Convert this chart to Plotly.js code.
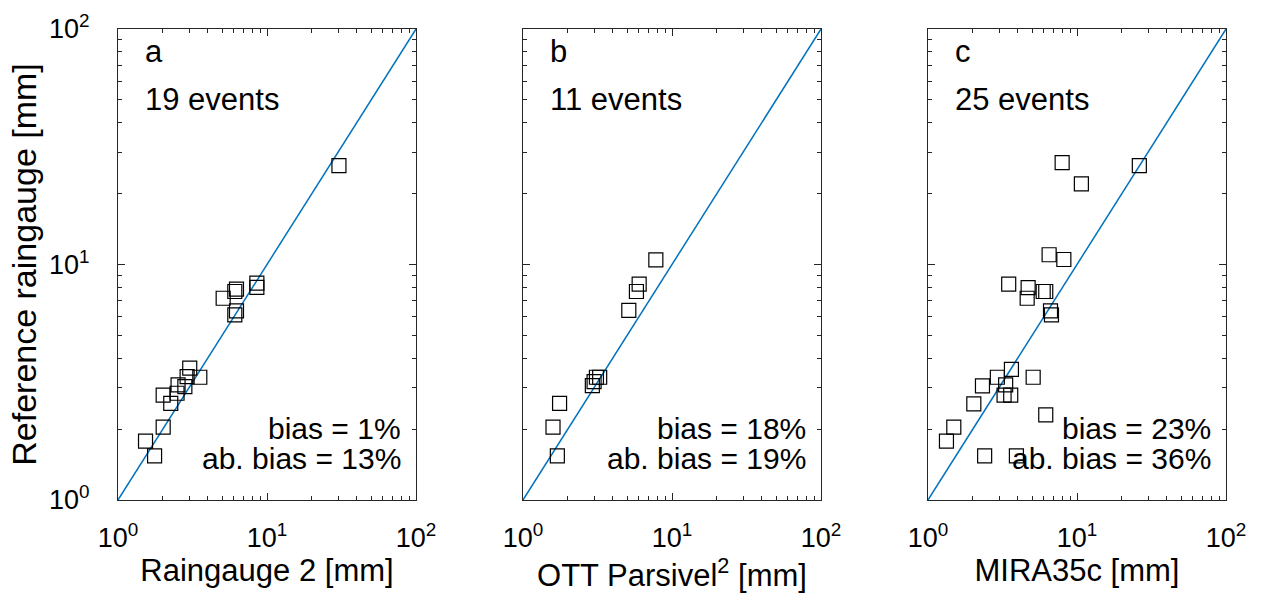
<!DOCTYPE html>
<html>
<head>
<meta charset="utf-8">
<script src="https://cdn.plot.ly/plotly-3.0.1.min.js"></script>
<style>html,body{margin:0;padding:0;background:#fff;}#chart{width:1261px;height:601px;}</style>
</head>
<body>
<div id="chart"></div>
<script>
// ---- data (mm) ----
const rg2X = [30.4, 8.55, 8.55, 6.08, 6.24, 5.08, 6.24, 6.08, 3.03, 3.54, 2.91, 2.81, 2.53, 2.49, 2.01, 2.26, 2.01, 1.53, 1.76];
const rg2Y = [26.3, 8.33, 7.99, 7.68, 7.86, 7.19, 6.36, 6.11, 3.63, 3.32, 3.34, 3.03, 3.08, 2.84, 2.79, 2.57, 2.04, 1.78, 1.54];

const ottX = [7.79, 6.02, 5.77, 5.13, 3.27, 3.11, 3.00, 2.92, 1.76, 1.59, 1.70];
const ottY = [10.47, 8.25, 7.68, 6.38, 3.32, 3.32, 3.18, 3.06, 2.57, 2.04, 1.54];

const miraX = [7.95, 26.2, 10.7, 6.50, 8.16, 3.48, 4.70, 4.63, 5.93, 6.17, 6.64, 6.74, 3.63, 5.08, 2.92, 3.32, 2.32, 3.24, 3.59, 2.03, 6.17, 1.49, 1.33, 2.40, 3.92];
const miraY = [27.1, 26.3, 22.0, 11.0, 10.5, 8.25, 7.98, 7.19, 7.68, 7.68, 6.36, 6.11, 3.59, 3.32, 3.32, 3.08, 3.05, 2.79, 2.79, 2.56, 2.30, 2.04, 1.78, 1.54, 1.54];

const oneToOne = [1, 100];

const panelLetters = ['a', 'b', 'c'];
const eventLabels = ['19 events', '11 events', '25 events'];
const biasLabels = ['bias = 1%', 'bias = 18%', 'bias = 23%'];
const absBiasLabels = ['ab. bias = 13%', 'ab. bias = 19%', 'ab. bias = 36%'];
const xTitles = ['Raingauge 2 [mm]', 'OTT Parsivel<sup>2</sup> [mm]', 'MIRA35c [mm]'];
const yTitle = 'Reference raingauge [mm]';
const tickVals = [1, 10, 100];
const tickText = ['10<sup>0</sup>', '10<sup>1</sup>', '10<sup>2</sup>'];
const minorTickVals = [2, 3, 4, 5, 6, 7, 8, 9, 20, 30, 40, 50, 60, 70, 80, 90];

// ---- styling ----
const FONT = '"Liberation Sans", Arial, Helvetica, sans-serif';
const AXC = '#262626';
const BLUE = '#0072BD';
const W = 1261, H = 601;
const xDomains = [[118 / W, 416 / W], [523 / W, 821 / W], [928 / W, 1226 / W]];
const yDomain = [(H - 500) / H, (H - 29) / H];

const seriesX = [rg2X, ottX, miraX];
const seriesY = [rg2Y, ottY, miraY];

const traces = [];
const layout = {
  width: W, height: H,
  margin: {l: 0, r: 0, t: 0, b: 0},
  paper_bgcolor: '#fff', plot_bgcolor: '#fff',
  showlegend: false,
  font: {family: FONT, color: '#000'},
  annotations: []
};

function baseAxis() {
  return {
    type: 'log', range: [0, 2],
    tickmode: 'array', tickvals: tickVals, ticktext: tickText,
    ticks: 'inside', ticklen: 7, tickwidth: 1, tickcolor: AXC,
    minor: {tickmode: 'array', tickvals: minorTickVals, ticks: 'inside', ticklen: 4, tickwidth: 1, tickcolor: AXC, showgrid: false},
    showline: true, linecolor: AXC, linewidth: 1, mirror: 'ticks',
    showgrid: false, zeroline: false, fixedrange: true,
    tickfont: {family: FONT, size: 27, color: '#000'}
  };
}

for (let i = 0; i < 3; i++) {
  const sfx = i === 0 ? '' : String(i + 1);
  const xa = 'x' + sfx, ya = 'y' + sfx;
  traces.push({
    x: oneToOne, y: oneToOne, xaxis: xa, yaxis: ya,
    mode: 'lines', line: {color: BLUE, width: 1.5}, hoverinfo: 'skip'
  });
  traces.push({
    x: seriesX[i], y: seriesY[i], xaxis: xa, yaxis: ya,
    mode: 'markers', type: 'scatter',
    marker: {symbol: 'square-open', size: 14, color: '#000', line: {width: 1.2, color: '#000'}}
  });

  const xax = baseAxis();
  xax.domain = xDomains[i];
  xax.anchor = ya;
  xax.ticklabelstandoff = 14;
  xax.title = {text: xTitles[i], font: {family: FONT, size: 31, color: '#000'}, standoff: 2};
  layout['xaxis' + sfx] = xax;

  const yax = baseAxis();
  yax.domain = yDomain;
  yax.anchor = xa;
  if (i === 0) {
    yax.ticklabelstandoff = 22;
    yax.title = {text: yTitle, font: {family: FONT, size: 34, color: '#000'}, standoff: 2};
  } else {
    yax.showticklabels = false;
  }
  layout['yaxis' + sfx] = yax;

  const xr = xa + ' domain', yr = ya + ' domain';
  layout.annotations.push(
    {xref: xr, yref: yr, x: 0.085, y: 0.953, xanchor: 'left', yanchor: 'middle', showarrow: false,
     text: panelLetters[i], font: {family: FONT, size: 31, color: '#000'}},
    {xref: xr, yref: yr, x: 0.085, y: 0.851, xanchor: 'left', yanchor: 'middle', showarrow: false,
     text: eventLabels[i], font: {family: FONT, size: 31, color: '#000'}},
    {xref: xr, yref: yr, x: 0.955, y: 0.151, xanchor: 'right', yanchor: 'middle', showarrow: false, align: 'right',
     text: biasLabels[i], font: {family: FONT, size: 30, color: '#000'}},
    {xref: xr, yref: yr, x: 0.955, y: 0.089, xanchor: 'right', yanchor: 'middle', showarrow: false, align: 'right',
     text: absBiasLabels[i], font: {family: FONT, size: 30, color: '#000'}}
  );
}

Plotly.newPlot('chart', traces, layout, {displayModeBar: false, staticPlot: true});
</script>
</body>
</html>
